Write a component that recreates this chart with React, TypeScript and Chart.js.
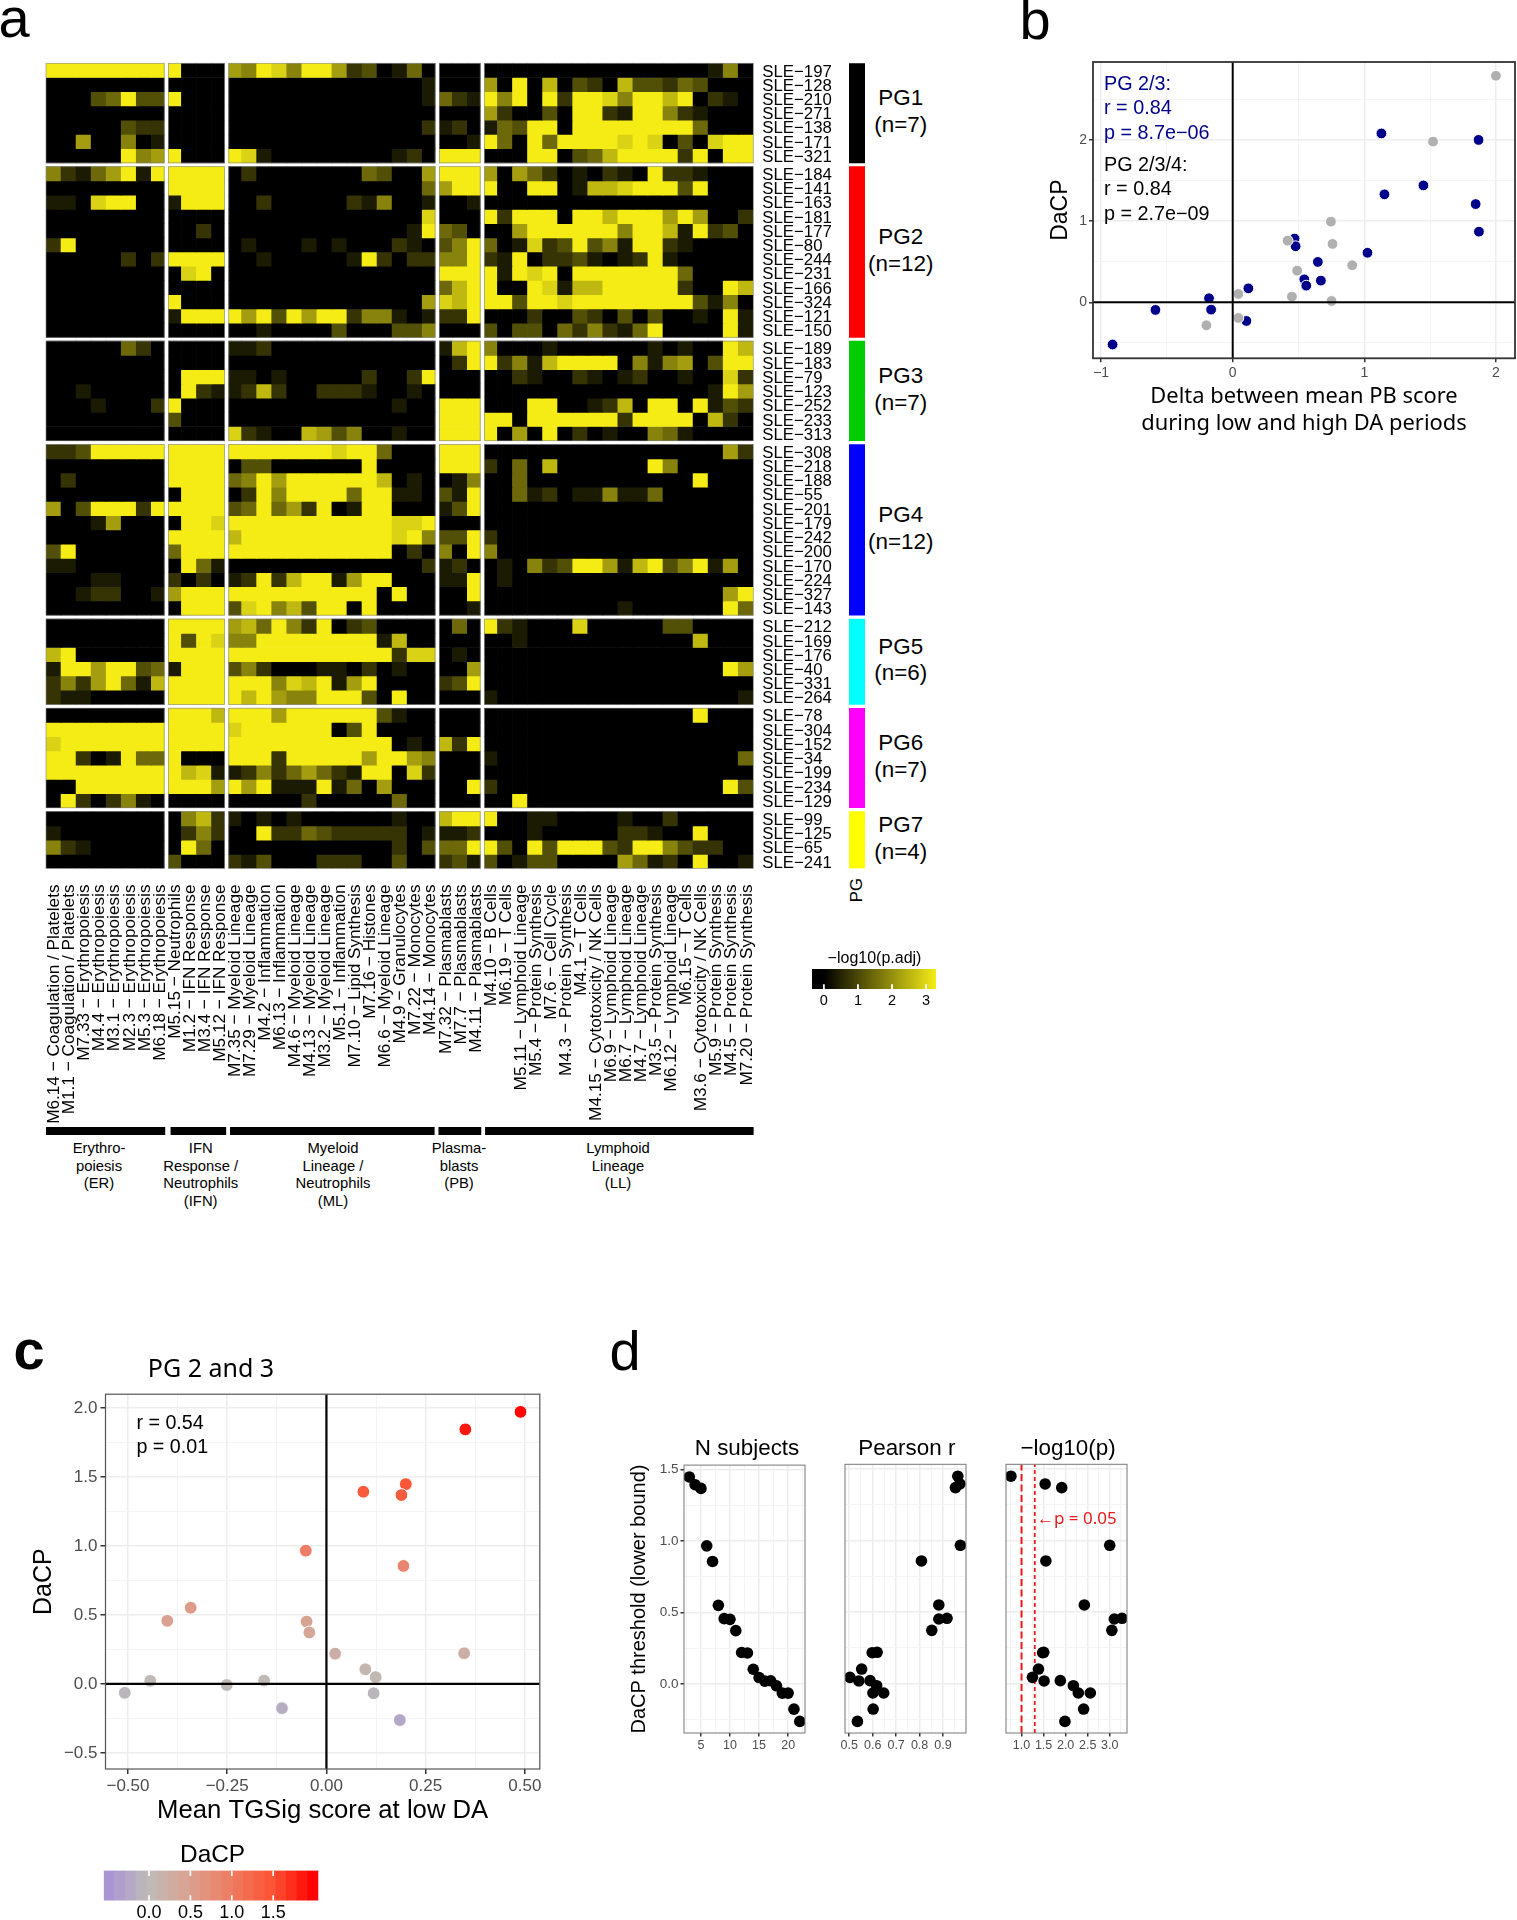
import React, { useEffect, useRef } from "react";
import { Chart, registerables } from "chart.js";

Chart.register(...registerables);
const SANS = "Liberation Sans";
const NOTO = "Noto Sans";
Chart.defaults.font.family = SANS;

// ---------- panel a data ----------
const erModules = ["M6.14 − Coagulation / Platelets", "M1.1 − Coagulation / Platelets", "M7.33 − Erythropoiesis", "M4.4 − Erythropoiesis", "M3.1 − Erythropoiesis", "M2.3 − Erythropoiesis", "M5.3 − Erythropoiesis", "M6.18 − Erythropoiesis"];
const ifnModules = ["M5.15 − Neutrophils", "M1.2 − IFN Response", "M3.4 − IFN Response", "M5.12 − IFN Response"];
const mlModules = ["M7.35 − Myeloid Lineage", "M7.29 − Myeloid Lineage", "M4.2 − Inflammation", "M6.13 − Inflammation", "M4.6 − Myeloid Lineage", "M4.13 − Myeloid Lineage", "M3.2 − Myeloid Lineage", "M5.1 − Inflammation", "M7.10 − Lipid Synthesis", "M7.16 − Histones", "M6.6 − Myeloid Lineage", "M4.9 − Granulocytes", "M7.22 − Monocytes", "M4.14 − Monocytes"];
const pbModules = ["M7.32 − Plasmablasts", "M7.7 − Plasmablasts", "M4.11 − Plasmablasts"];
const llModules = ["M4.10 − B Cells", "M6.19 − T Cells", "M5.11 − Lymphoid Lineage", "M5.4 − Protein Synthesis", "M7.6 − Cell Cycle", "M4.3 − Protein Synthesis", "M4.1 − T Cells", "M4.15 − Cytotoxicity / NK Cells", "M6.9 − Lymphoid Lineage", "M6.7 − Lymphoid Lineage", "M4.7 − Lymphoid Lineage", "M3.5 − Protein Synthesis", "M6.12 − Lymphoid Lineage", "M6.15 − T Cells", "M3.6 − Cytotoxicity / NK Cells", "M5.9 − Protein Synthesis", "M4.5 − Protein Synthesis", "M7.20 − Protein Synthesis"];

const pg1Ids = [197, 128, 210, 271, 138, 171, 321];
const pg2Ids = [184, 141, 163, 181, 177, 80, 244, 231, 166, 324, 121, 150];
const pg3Ids = [189, 183, 79, 123, 252, 233, 313];
const pg4Ids = [308, 218, 188, 55, 201, 179, 242, 200, 170, 224, 327, 143];
const pg5Ids = [212, 169, 176, 40, 331, 264];
const pg6Ids = [78, 304, 152, 34, 199, 234, 129];
const pg7Ids = [99, 125, 65, 241];

// one digit per cell (0 = −log10(p.adj) of 0, 9 = saturated), columns grouped ER | IFN | ML | PB | LL
const pg1Cells = [
  "99999999 9000 65985996230140 000 000000000000000150",
  "00000000 0000 00000000000001 000 609070320733243000",
  "00034933 9000 00000000000001 421 959092998599790210",
  "00000000 0000 00000000000000 000 620030992199521000",
  "00000322 0000 00000000000002 120 143990999999994000",
  "00600501 0000 00000000000000 001 940949999898030899",
  "00000956 9000 98100000000120 999 000990347999929099",
];
const pg2Cells = [
  "52146919 9999 02000000043006 999 606420102109221000",
  "00000000 9999 00000000000004 699 900990177899939000",
  "11089900 1999 00200000215001 001 000000000000000000",
  "00000000 0000 00000000000008 000 929990997999696002",
  "00000000 0020 00000000000019 430 006999999599719230",
  "29000000 0000 01000101000210 359 401823935199210000",
  "00000202 9999 00100000192022 559 219022310129100000",
  "00000000 0890 00000000000000 999 919890999999940000",
  "00000000 0000 00000000000000 479 900981779999920097",
  "00000000 9000 00000000000006 879 993998999999993150",
  "00000000 1999 96939699255101 229 000200320303001091",
  "00000000 0000 00100003000335 000 303304252149000091",
];
const pg3Cells = [
  "00000420 0000 11200000000000 179 500010000001010097",
  "00000000 0000 00000000000000 029 925179999051560399",
  "00000000 0999 11010000020029 000 002100210120010082",
  "00100000 0921 12720022210010 000 000000000000000196",
  "00010002 9000 00000000000100 999 000990012709909132",
  "00000000 3000 00000000000000 999 990999999299990720",
  "00000000 0000 82100763500100 999 906090201005410000",
];
const pg4Cells = [
  "22399999 9999 99999998994000 999 000000000000000062",
  "00000000 9999 03300000090000 999 204070000009500000",
  "02000000 9999 45969999997010 015 004000000000009000",
  "00000000 0999 02959999499110 319 004120115114000000",
  "60399929 9999 34946290199000 139 000000000000000000",
  "00016000 0998 99999999999889 000 000000000000000000",
  "00000000 9999 79999999999895 339 200000000000000000",
  "39000000 4999 99999999999020 509 500000000000000000",
  "11000000 0941 00000000000002 120 010523996179359160",
  "00011000 2020 12927991699000 119 010000000000000000",
  "00122001 6999 99999999990900 009 000000000000000069",
  "00000000 0999 38957399090000 001 000000000100000094",
];
const pg5Cells = [
  "00000000 9999 67495290230000 040 921000800000330000",
  "00000000 9398 55999999991700 000 001000000000007000",
  "79000000 9999 99999999999288 010 000000000000000000",
  "19969934 1999 35200011020100 006 000000000000000096",
  "25269417 9999 99958791690000 239 000000000000000000",
  "21100000 9999 97965599930900 000 100000000000000001",
];
const pg6Cells = [
  "00000000 9997 99969999993100 000 000000000000009000",
  "99999999 9999 89999990390000 000 000000000000000000",
  "89999999 9999 99999999999010 729 000000000000000000",
  "99201944 9000 99929999969965 000 100000000000000004",
  "99999999 9781 12524642199082 000 000000000000000000",
  "00999999 9996 96911191406000 009 200000000000000093",
  "09202510 0000 00000200000400 000 009000000000000000",
];
const pg7Cells = [
  "00000000 0572 10101000000100 799 900110000100200000",
  "10000000 0252 00922432222201 112 000100000221009000",
  "52100000 0940 00000000000203 449 930939993299532200",
  "00000000 3000 21300022200300 231 301330000641209001",
];
const pgNames = ["PG1", "PG2", "PG3", "PG4", "PG5", "PG6", "PG7"];
const pgColours = ["#000000", "#FF0000", "#00CD00", "#0000FF", "#00FFFF", "#FF00FF", "#FFFF00"];
const heatLegendTicks = [0, 1, 2, 3];
const moduleGroupNames = [["Erythro-", "poiesis", "(ER)"], ["IFN", "Response /", "Neutrophils", "(IFN)"], ["Myeloid", "Lineage /", "Neutrophils", "(ML)"], ["Plasma-", "blasts", "(PB)"], ["Lymphoid", "Lineage", "(LL)"]];

// ---------- panel b data ----------
const pbDeltaPg23 = [1.13, 1.868, 1.449, 1.153, 1.846, 1.871, 0.47, 0.478, 1.024, 0.647, 0.544, 0.559, 0.67, 0.119, -0.18, -0.587, -0.164, 0.104, -0.913];
const dacpPg23 = [2.08, 2.0, 1.44, 1.33, 1.21, 0.87, 0.785, 0.69, 0.61, 0.497, 0.283, 0.205, 0.267, 0.172, 0.05, -0.094, -0.09, -0.23, -0.52];
const pbDeltaOther = [2.0, 1.522, 0.746, 0.758, 0.417, 0.908, 0.49, 0.043, 0.45, 0.751, 0.043, -0.2];
const dacpOther = [2.79, 1.98, 0.994, 0.719, 0.76, 0.456, 0.39, 0.103, 0.07, 0.016, -0.193, -0.283];

// ---------- panel c data ----------
const tgSigScore = [0.489, 0.35, 0.093, 0.2, 0.189, -0.052, 0.194, -0.342, -0.401, -0.05, -0.043, 0.022, 0.347, 0.098, 0.124, -0.444, -0.157, -0.251, -0.508, 0.119, -0.112, 0.185];
const tgSigDacp = [1.972, 1.845, 1.393, 1.448, 1.369, 0.966, 0.855, 0.552, 0.457, 0.452, 0.373, 0.219, 0.222, 0.106, 0.049, 0.022, 0.024, -0.008, -0.065, -0.068, -0.176, -0.262];
const dacpLegendTicks = [0, 0.5, 1, 1.5];

// ---------- panel d data ----------
const dacpThreshold = [1.447, 1.393, 1.367, 0.965, 0.856, 0.549, 0.456, 0.451, 0.372, 0.219, 0.216, 0.102, 0.044, 0.019, 0.021, -0.014, -0.065, -0.065, -0.177, -0.263];
const nSubjects = [3, 4, 5, 6, 7, 8, 9, 10, 11, 12, 13, 14, 15, 16, 17, 18, 19, 20, 21, 22];
const pearsonR = [0.963, 0.972, 0.953, 0.974, 0.808, 0.882, 0.917, 0.882, 0.852, 0.619, 0.598, 0.553, 0.503, 0.541, 0.589, 0.617, 0.647, 0.601, 0.602, 0.535];
const minusLogP = [0.76, 1.536, 1.912, 3.0, 1.552, 2.424, 3.28, 3.104, 3.048, 1.504, 1.48, 1.384, 1.248, 1.512, 1.88, 2.176, 2.288, 2.56, 2.408, 1.984];
const pCutoffs = [1.0, 1.3];

// ---------- derived ----------
const pgIds = [pg1Ids, pg2Ids, pg3Ids, pg4Ids, pg5Ids, pg6Ids, pg7Ids];
const pgCells = [pg1Cells, pg2Cells, pg3Cells, pg4Cells, pg5Cells, pg6Cells, pg7Cells];
const moduleGroups = [erModules, ifnModules, mlModules, pbModules, llModules];
const allModules = moduleGroups.flat();
const HEAT_MAX = 3.3;
const digitValue = (d: number) => (d / 9) * HEAT_MAX;
const heatColour = (v: number) => {
  const t = Math.max(0, Math.min(1, v / HEAT_MAX));
  return `rgb(${Math.round(245 * t)},${Math.round(236 * t)},${Math.round(22 * t)})`;
};

const HEAT = { left: 46, top: 63.3, right: 753.3, bottom: 868.5 };
const ROW_PX = 14.22;
const ROW_GAP = 3.85 / ROW_PX;
const COL_GAP = 2.2 / 15.05;
const nRows = pgIds.reduce((s, a) => s + a.length, 0);
const rowUnits = nRows + ROW_GAP * (pgIds.length - 1);

const pgSpans: [number, number][] = [];
{
  let y = 0;
  pgIds.forEach((ids) => {
    pgSpans.push([y, y + ids.length]);
    y += ids.length + ROW_GAP;
  });
}
const colSpans: [number, number][] = [];
{
  let x = 0;
  moduleGroups.forEach((g) => {
    colSpans.push([x, x + g.length]);
    x += g.length;
  });
}
const rowEntries = pgIds.flatMap((ids, g) =>
  ids.map((id, r) => ({
    label: `SLE−${id}`,
    centre: pgSpans[g][0] + r + 0.5,
    values: pgCells[g][r].replace(/ /g, "").split("").map((c) => digitValue(Number(c))),
  }))
);
const trimmedColumn = (c: number): [number, number] => {
  let a = c;
  let b = c + 1;
  colSpans.forEach(([s, e], i) => {
    if (c === s && i > 0) a += COL_GAP;
    if (c + 1 === e && i < colSpans.length - 1) b -= COL_GAP;
  });
  return [a, b];
};

type Box = { left: number; top: number; width: number; height: number };

function ChartBox({ box, config }: { box: Box; config: () => any }) {
  const ref = useRef<HTMLCanvasElement>(null);
  useEffect(() => {
    const chart = new Chart(ref.current as HTMLCanvasElement, config());
    return () => chart.destroy();
  }, []);
  return (
    <canvas
      ref={ref}
      width={box.width}
      height={box.height}
      style={{ position: "absolute", left: box.left, top: box.top, width: box.width, height: box.height }}
    />
  );
}

function Label(p: { x: number; y: number; size: number; text: string; color?: string; family?: string; weight?: number; left?: boolean; rotate?: boolean }) {
  return (
    <div
      style={{
        position: "absolute",
        left: p.x,
        top: p.y,
        transform: `translate(${p.left ? "0" : "-50%"},-50%)${p.rotate ? " rotate(-90deg)" : ""}`,
        fontFamily: p.family || SANS,
        fontSize: p.size,
        fontWeight: p.weight || 400,
        color: p.color || "#000",
        whiteSpace: "nowrap",
        lineHeight: 1,
      }}
    >
      {p.text}
    </div>
  );
}

const baseOptions = {
  responsive: false,
  animation: false as const,
  events: [] as string[],
  plugins: { legend: { display: false }, tooltip: { enabled: false }, title: { display: false } },
};

// ---------- heatmap ----------
const heatBox: Box = { left: 0, top: 0, width: 845, height: 1125 };
function heatConfig() {
  const ys = rowEntries.map((r) => r.centre);
  const cols = allModules.map((_, i) => i + 0.5);
  return {
    type: "bar",
    data: {
      datasets: rowEntries.map((row) => ({
        label: row.label,
        data: row.values.map((_, c) => ({ x: trimmedColumn(c), y: row.centre })),
        backgroundColor: row.values.map(heatColour),
        borderWidth: 0,
        inflateAmount: 0.35,
        barThickness: ROW_PX,
        grouped: false,
      })),
    },
    options: {
      ...baseOptions,
      indexAxis: "y",
      layout: { padding: { left: HEAT.left, top: HEAT.top, right: 0, bottom: 0 } },
      scales: {
        x: {
          type: "linear",
          position: "bottom",
          offset: false,
          min: 0,
          max: allModules.length,
          afterBuildTicks: (s: any) => { s.ticks = cols.map((value) => ({ value })); },
          afterFit: (s: any) => { s.height = heatBox.height - HEAT.bottom; },
          grid: { display: false, drawTicks: false },
          border: { display: false },
          ticks: { autoSkip: false, minRotation: 90, maxRotation: 90, padding: 16, labelOffset: 1, color: "#000", font: { size: 17.2 }, callback: (_: any, i: number) => allModules[i] },
        },
        y: {
          type: "linear",
          position: "right",
          offset: false,
          reverse: true,
          min: 0,
          max: rowUnits,
          afterBuildTicks: (s: any) => { s.ticks = ys.map((value) => ({ value })); },
          afterFit: (s: any) => { s.width = heatBox.width - HEAT.right; },
          grid: { display: false, drawTicks: false },
          border: { display: false },
          ticks: { autoSkip: false, padding: 9, labelOffset: 1.5, color: "#000", font: { size: 16.8 }, callback: (_: any, i: number) => rowEntries[i].label },
        },
      },
    },
    plugins: [
      {
        id: "facetBorders",
        afterDatasetsDraw(chart: any) {
          const { ctx, scales } = chart;
          ctx.save();
          ctx.strokeStyle = "rgba(130,130,130,0.75)";
          ctx.lineWidth = 0.8;
          pgSpans.forEach(([ya, yb]) => {
            colSpans.forEach(([xa, xb], i) => {
              const a = xa + (i > 0 ? COL_GAP : 0);
              const b = xb - (i < colSpans.length - 1 ? COL_GAP : 0);
              const l = scales.x.getPixelForValue(a);
              const r = scales.x.getPixelForValue(b);
              const t = scales.y.getPixelForValue(ya);
              const u = scales.y.getPixelForValue(yb);
              ctx.strokeRect(l, t, r - l, u - t);
            });
          });
          ctx.restore();
        },
      },
    ],
  };
}

// PG colour strip
const stripBox: Box = { left: 849, top: 63, width: 16, height: 806 };
function stripConfig() {
  return {
    type: "bar",
    data: {
      labels: ["PG"],
      datasets: pgNames.map((n, i) => ({
        label: n,
        data: [pgSpans[i]],
        backgroundColor: pgColours[i],
        borderWidth: 0,
        grouped: false,
        barPercentage: 1,
        categoryPercentage: 1,
      })),
    },
    options: {
      ...baseOptions,
      layout: { padding: { top: 0.3, bottom: 0.5 } },
      scales: {
        x: { display: false },
        y: { display: false, reverse: true, min: 0, max: rowUnits },
      },
    },
  };
}

// module-group bars under the column labels
const groupBarBox: Box = { left: 46, top: 1127, width: 708, height: 8 };
const groupBarInset: [number, number][] = [[0, -0.1], [0.3, -0.05], [0.25, -0.2], [0.1, -0.1], [0.2, 0]];
function groupBarConfig() {
  return {
    type: "bar",
    data: {
      labels: ["groups"],
      datasets: colSpans.map(([a, b], i) => ({
        label: moduleGroupNames[i].join(" "),
        data: [{ x: [a + groupBarInset[i][0], b + groupBarInset[i][1]], y: "groups" }],
        backgroundColor: "#000",
        borderWidth: 0,
        grouped: false,
        barPercentage: 1,
        categoryPercentage: 1,
      })),
    },
    options: {
      ...baseOptions,
      indexAxis: "y",
      scales: {
        x: { type: "linear", display: false, min: 0, max: allModules.length * (708 / 707.3), offset: false },
        y: { type: "category", display: false },
      },
    },
  };
}

// heat colour legend
const heatLegendBox: Box = { left: 800, top: 965, width: 150, height: 50 };
function heatLegendConfig() {
  const plot = { l: 12, t: 4, w: 124, h: 20 };
  const min = -0.348;
  const max = 3.29;
  const n = 80;
  const step = (max - min) / n;
  const vals = Array.from({ length: n }, (_, i) => min + (i + 0.5) * step);
  return {
    type: "bar",
    data: {
      datasets: [
        {
          label: "ticks",
          data: heatLegendTicks.map((t) => ({ x: t, y: [0, 0.22] })),
          backgroundColor: "#fff",
          borderWidth: 0,
          barThickness: 1.2,
          grouped: false,
          order: 0,
        },
        {
          label: "−log10(p.adj)",
          data: vals.map((v) => ({ x: v, y: [0, 1] })),
          backgroundColor: vals.map((v) => heatColour(Math.max(0, v))),
          borderWidth: 0,
          inflateAmount: 0.4,
          barThickness: plot.w / n,
          grouped: false,
          order: 1,
        },
      ],
    },
    options: {
      ...baseOptions,
      layout: { padding: { left: plot.l, top: plot.t, right: heatLegendBox.width - plot.l - plot.w } },
      scales: {
        x: {
          type: "linear",
          offset: false,
          min,
          max,
          afterBuildTicks: (s: any) => { s.ticks = heatLegendTicks.map((value) => ({ value })); },
          afterFit: (s: any) => { s.height = heatLegendBox.height - plot.t - plot.h; },
          grid: { display: false, drawTicks: false },
          border: { display: false },
          ticks: { autoSkip: false, maxRotation: 0, padding: 3, color: "#000", font: { size: 14.5 }, callback: (v: number) => String(v) },
        },
        y: { type: "linear", display: false, min: 0, max: 1 },
      },
    },
  };
}

// ---------- generic scatter panel ----------
type AxisSpec = { min: number; max: number; major: number[]; minor: number[]; fmt: (v: number) => string; size: number; pad: number; tick: number; show?: boolean };
type TitleSpec = { text: string | string[]; size: number; family?: string; lh?: number; centre: number };
type Panel = { box: Box; plot: [number, number, number, number]; x: AxisSpec; y: AxisSpec; xTitle?: TitleSpec; yTitle?: TitleSpec; datasets: any[]; border: [string, number] };

function axisOptions(a: AxisSpec, horizontal: boolean, margin: number, title: any) {
  const all = [...a.major, ...a.minor].sort((p, q) => p - q);
  const isMajor = (v: number) => a.major.includes(v);
  return {
    type: "linear",
    offset: false,
    min: a.min,
    max: a.max,
    afterBuildTicks: (s: any) => { s.ticks = all.map((value) => ({ value })); },
    afterFit: (s: any) => { if (horizontal) s.height = margin; else s.width = margin; },
    grid: {
      color: (c: any) => (isMajor(c.tick?.value) ? "#EDEDED" : "#F3F3F3"),
      lineWidth: (c: any) => (isMajor(c.tick?.value) ? 1.5 : 0.9),
      tickColor: (c: any) => (isMajor(c.tick?.value) ? "#333333" : "rgba(0,0,0,0)"),
      tickLength: a.tick,
      drawTicks: a.tick > 0,
    },
    border: { display: false },
    ticks: {
      display: a.show !== false,
      autoSkip: false,
      minRotation: 0,
      maxRotation: 0,
      padding: a.pad,
      color: "#4D4D4D",
      font: { size: a.size },
      callback: (v: number) => (isMajor(v) ? a.fmt(v) : ""),
    },
    title,
  };
}

function panelConfig(p: Panel) {
  const [l, t, r, b] = p.plot;
  const mLeft = l - p.box.left;
  const mTop = t - p.box.top;
  const mRight = p.box.left + p.box.width - r;
  const mBottom = p.box.top + p.box.height - b;
  let xt: any = { display: false };
  if (p.xTitle) {
    const lh = p.xTitle.lh || 1.2;
    const px = p.xTitle.size * lh;
    const n = Array.isArray(p.xTitle.text) ? p.xTitle.text.length : 1;
    const pad = p.box.top + p.box.height - p.xTitle.centre - px / 2 - px * (n - 1);
    xt = { display: true, text: p.xTitle.text, color: "#000", font: { size: p.xTitle.size, family: p.xTitle.family || SANS, lineHeight: lh }, padding: { top: 0, bottom: pad } };
  }
  let yt: any = { display: false };
  if (p.yTitle) {
    const lh = p.yTitle.lh || 1.2;
    const px = p.yTitle.size * lh;
    yt = { display: true, text: p.yTitle.text, color: "#000", font: { size: p.yTitle.size, family: p.yTitle.family || SANS, lineHeight: lh }, padding: { top: p.yTitle.centre - p.box.left - px / 2, bottom: 0 } };
  }
  return {
    type: "scatter",
    data: { datasets: p.datasets },
    options: {
      ...baseOptions,
      layout: { padding: { top: mTop, right: mRight, left: 0, bottom: 0 } },
      scales: {
        x: axisOptions(p.x, true, mBottom, xt),
        y: axisOptions(p.y, false, mLeft, yt),
      },
    },
    plugins: [
      {
        id: "panelBorder",
        afterDraw(chart: any) {
          const { ctx, chartArea: a } = chart;
          ctx.save();
          ctx.strokeStyle = p.border[0];
          ctx.lineWidth = p.border[1];
          ctx.strokeRect(a.left, a.top, a.right - a.left, a.bottom - a.top);
          ctx.restore();
        },
      },
    ],
  };
}

const zip = (xs: number[], ys: number[]) => xs.map((x, i) => ({ x, y: ys[i] }));
const refLine = (data: { x: number; y: number }[], colour = "#000", width = 2, dash: number[] = []) => ({
  type: "scatter",
  label: "reference",
  data,
  showLine: true,
  pointRadius: 0,
  borderColor: colour,
  borderWidth: width,
  borderDash: dash,
  order: 0,
});
const fmtInt = (v: number) => String(v).replace("-", "−");
const fmt1 = (v: number) => v.toFixed(1).replace("-", "−");
const fmt2 = (v: number) => v.toFixed(2).replace("-", "−");

// panel b
const bX = { min: -1.0616, max: 2.145 };
const bY = { min: -0.69, max: 2.96 };
const panelB: Panel = {
  box: { left: 1040, top: 50, width: 500, height: 390 },
  plot: [1093, 62, 1515, 358.3],
  x: { ...bX, major: [-1, 0, 1, 2], minor: [-0.5, 0.5, 1.5], fmt: fmtInt, size: 14, pad: 2, tick: 4 },
  y: { ...bY, major: [0, 1, 2], minor: [-0.5, 0.5, 1.5, 2.5], fmt: fmtInt, size: 14, pad: 2, tick: 4 },
  xTitle: { text: ["Delta between mean PB score", "during low and high DA periods"], size: 21.9, family: NOTO, lh: 1.265, centre: 396.5 },
  yTitle: { text: "DaCP", size: 23, centre: 1061 },
  border: ["#333333", 1.8],
  datasets: [
    refLine([{ x: 0, y: bY.min }, { x: 0, y: bY.max }]),
    refLine([{ x: bX.min, y: 0 }, { x: bX.max, y: 0 }]),
    { label: "Other PG", data: zip(pbDeltaOther, dacpOther), backgroundColor: "#B0B0B0", borderColor: "#fff", borderWidth: 1, pointRadius: 5.4, order: 1 },
    { label: "PG 2/3", data: zip(pbDeltaPg23, dacpPg23), backgroundColor: "#00008B", borderColor: "#fff", borderWidth: 1, pointRadius: 5.4, order: 2 },
  ],
};

// panel c
const dacpStops: [number, [number, number, number]][] = [
  [-0.55, [168, 143, 216]],
  [0, [190, 187, 184]],
  [0.5, [219, 160, 143]],
  [1, [238, 124, 98]],
  [1.5, [252, 82, 50]],
  [2, [255, 0, 0]],
];
const dacpColour = (v: number) => {
  const c = Math.max(dacpStops[0][0], Math.min(2, v));
  for (let i = 1; i < dacpStops.length; i++) {
    const [b, cb] = dacpStops[i];
    const [a, ca] = dacpStops[i - 1];
    if (c <= b) {
      const t = (c - a) / (b - a);
      return `rgb(${ca.map((q, k) => Math.round(q + (cb[k] - q) * t)).join(",")})`;
    }
  }
  return "rgb(255,0,0)";
};
const cX = { min: -0.5566, max: 0.5376 };
const cY = { min: -0.617, max: 2.1 };
const panelC: Panel = {
  box: { left: 10, top: 1381, width: 550, height: 449 },
  plot: [105.5, 1391.5, 539.8, 1769],
  x: { ...cX, major: [-0.5, -0.25, 0, 0.25, 0.5], minor: [-0.375, -0.125, 0.125, 0.375], fmt: fmt2, size: 17, pad: 2, tick: 5 },
  y: { ...cY, major: [-0.5, 0, 0.5, 1, 1.5, 2], minor: [-0.25, 0.25, 0.75, 1.25, 1.75], fmt: fmt1, size: 17, pad: 3, tick: 5 },
  xTitle: { text: "Mean TGSig score at low DA", size: 25.7, centre: 1810.5 },
  yTitle: { text: "DaCP", size: 25, centre: 44 },
  border: ["#555555", 1.2],
  datasets: [
    refLine([{ x: 0, y: cY.min }, { x: 0, y: cY.max }], "#000", 2.2),
    refLine([{ x: cX.min, y: 0 }, { x: cX.max, y: 0 }], "#000", 2.2),
    { label: "PG 2 and 3", data: zip(tgSigScore, tgSigDacp), backgroundColor: tgSigDacp.map(dacpColour), borderColor: "#fff", borderWidth: 1, pointRadius: 6.4, order: 1 },
  ],
};

// panel c colour legend
const dacpLegendBox: Box = { left: 95, top: 1865, width: 240, height: 55 };
function dacpLegendConfig() {
  const l = 103.7 - dacpLegendBox.left;
  const t = 1870.5 - dacpLegendBox.top;
  const w = 318.4 - 103.7;
  const h = 1900.6 - 1870.5;
  const min = -0.547;
  const max = 2.046;
  const n = 20;
  const step = (max - min) / n;
  const vals = Array.from({ length: n }, (_, i) => min + (i + 0.5) * step);
  return {
    type: "bar",
    data: {
      datasets: [
        {
          label: "ticks",
          data: dacpLegendTicks.flatMap((v) => [{ x: v, y: [0, 0.17] }, { x: v, y: [0.83, 1] }]),
          backgroundColor: "#fff",
          borderWidth: 0,
          barThickness: 1,
          grouped: false,
          order: 0,
        },
        {
          label: "DaCP",
          data: vals.map((v) => ({ x: v, y: [0, 1] })),
          backgroundColor: vals.map(dacpColour),
          borderWidth: 0,
          inflateAmount: 0.3,
          barThickness: w / n,
          grouped: false,
          order: 1,
        },
      ],
    },
    options: {
      ...baseOptions,
      layout: { padding: { left: l, top: t, right: dacpLegendBox.width - l - w } },
      scales: {
        x: {
          type: "linear",
          offset: false,
          min,
          max,
          afterBuildTicks: (s: any) => { s.ticks = dacpLegendTicks.map((value) => ({ value })); },
          afterFit: (s: any) => { s.height = dacpLegendBox.height - t - h; },
          grid: { display: false, drawTicks: false },
          border: { display: false },
          ticks: { autoSkip: false, maxRotation: 0, padding: 2, color: "#000", font: { size: 18 }, callback: (v: number) => v.toFixed(1) },
        },
        y: { type: "linear", display: false, min: 0, max: 1 },
      },
    },
  };
}

// panel d
const dY = { min: -0.344, max: 1.53, major: [0, 0.5, 1, 1.5], minor: [-0.25, 0.25, 0.75, 1.25], fmt: fmt1, size: 13.5 };
const dDots = (xs: number[]) => ({ label: "threshold", data: zip(xs, dacpThreshold), backgroundColor: "#000", borderWidth: 0, pointRadius: 5.8, order: 0 });
const panelD1: Panel = {
  box: { left: 625, top: 1455, width: 190, height: 305 },
  plot: [684, 1464.3, 805, 1733],
  x: { min: 2.09, max: 22.9, major: [5, 10, 15, 20], minor: [2.5, 7.5, 12.5, 17.5, 22.5], fmt: fmtInt, size: 12.5, pad: 2, tick: 3.5 },
  y: { ...dY, pad: 2, tick: 3.5 },
  yTitle: { text: "DaCP threshold (lower bound)", size: 20, centre: 639.5 },
  border: ["#777777", 1],
  datasets: [dDots(nSubjects)],
};
const panelD2: Panel = {
  box: { left: 830, top: 1455, width: 146, height: 305 },
  plot: [845, 1464.3, 966, 1733],
  x: { min: 0.482, max: 0.998, major: [0.5, 0.6, 0.7, 0.8, 0.9], minor: [0.55, 0.65, 0.75, 0.85, 0.95], fmt: fmt1, size: 12.5, pad: 2, tick: 3.5 },
  y: { ...dY, pad: 0, tick: 0, show: false },
  border: ["#777777", 1],
  datasets: [dDots(pearsonR)],
};
const panelD3: Panel = {
  box: { left: 992, top: 1455, width: 145, height: 305 },
  plot: [1006, 1464.3, 1127, 1733],
  x: { min: 0.648, max: 3.392, major: [1, 1.5, 2, 2.5, 3], minor: [0.75, 1.25, 1.75, 2.25, 2.75, 3.25], fmt: fmt1, size: 12.5, pad: 2, tick: 3.5 },
  y: { ...dY, pad: 0, tick: 0, show: false },
  border: ["#777777", 1],
  datasets: [
    dDots(minusLogP),
    refLine([{ x: pCutoffs[0], y: dY.min }, { x: pCutoffs[0], y: dY.max }], "#F01818", 2, [7, 3.5]),
    refLine([{ x: pCutoffs[1], y: dY.min }, { x: pCutoffs[1], y: dY.max }], "#F01818", 1.8, [4, 3]),
  ].map((d, i) => ({ ...d, order: i === 0 ? 0 : 1 })),
};

const panels = [panelB, panelC, panelD1, panelD2, panelD3];

export default function App() {
  return (
    <div style={{ position: "absolute", left: 0, top: 0, width: 1517, height: 1920, background: "#fff", overflow: "hidden" }}>
      <ChartBox box={heatBox} config={heatConfig} />
      <ChartBox box={stripBox} config={stripConfig} />
      <ChartBox box={groupBarBox} config={groupBarConfig} />
      <ChartBox box={heatLegendBox} config={heatLegendConfig} />
      <ChartBox box={dacpLegendBox} config={dacpLegendConfig} />
      {panels.map((p, i) => (
        <ChartBox key={i} box={p.box} config={() => panelConfig(p)} />
      ))}

      <Label x={14} y={18} size={56} text="a" />
      <Label x={1035} y={20} size={56} text="b" />
      <Label x={29} y={1350} size={56} text="c" weight={700} />
      <Label x={625} y={1351} size={56} text="d" />

      {pgNames.map((n, i) => {
        const c = (HEAT.top + ((pgSpans[i][0] + pgSpans[i][1]) / 2) * ROW_PX) - 1.7;
        return (
          <React.Fragment key={n}>
            <Label x={900.7} y={c - 13.4} size={22.4} text={n} />
            <Label x={900.7} y={c + 13.4} size={22.4} text={`(n=${pgIds[i].length})`} />
          </React.Fragment>
        );
      })}
      <Label x={857} y={890} size={16.8} text="PG" rotate />
      <Label x={874.5} y={958} size={16} text="−log10(p.adj)" />

      {moduleGroupNames.map((lines, g) =>
        lines.map((t, i) => (
          <Label key={`${g}-${i}`} x={[99, 200.7, 333, 459, 618][g]} y={1148 + i * 17.7} size={14.8} text={t} />
        ))
      )}

      {["PG 2/3:", "r = 0.84", "p = 8.7e−06"].map((t, i) => (
        <Label key={t} left x={1104} y={84 + i * 24.3} size={19.8} text={t} color="#00008B" />
      ))}
      {["PG 2/3/4:", "r = 0.84", "p = 2.7e−09"].map((t, i) => (
        <Label key={t} left x={1104} y={165 + i * 24.3} size={19.8} text={t} />
      ))}

      <Label x={211} y={1366.5} size={25} text="PG 2 and 3" family={NOTO} />
      <Label left x={136.4} y={1423} size={19.7} text="r = 0.54" />
      <Label left x={136.4} y={1447} size={19.7} text="p = 0.01" />
      <Label x={212.6} y={1854} size={24.4} text="DaCP" />

      <Label x={747} y={1448.3} size={22.4} text="N subjects" />
      <Label x={906.8} y={1448.3} size={22.4} text="Pearson r" />
      <Label x={1068} y={1448.3} size={22.4} text="−log10(p)" />
      <Label left x={1037} y={1517.3} size={17} text="←p = 0.05" color="#F01818" family={NOTO} />
    </div>
  );
}
